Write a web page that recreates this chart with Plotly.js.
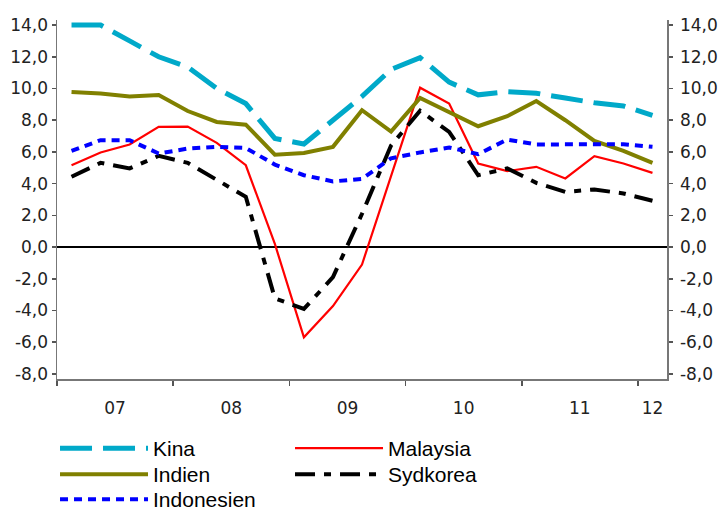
<!DOCTYPE html>
<html>
<head>
<meta charset="utf-8">
<script src="https://cdn.plot.ly/plotly-3.0.1.min.js"></script>
<style>html,body{margin:0;padding:0;background:#fff}#chart{width:721px;height:509px}</style>
</head>
<body>
<div id="chart"></div>
<script>
// Quarters 2007K1 .. 2012K1
const quarters = ["07K1","07K2","07K3","07K4","08K1","08K2","08K3","08K4","09K1","09K2","09K3","09K4","10K1","10K2","10K3","10K4","11K1","11K2","11K3","11K4","12K1"];
const kina      = [14.0,14.0,13.0,12.0,11.35,10.0,9.05,6.85,6.5,8.0,9.5,11.2,11.95,10.4,9.6,9.8,9.7,9.4,9.1,8.9,8.3];
const malaysia  = [5.16,5.96,6.47,7.58,7.6,6.57,5.16,0.2,-5.69,-3.72,-1.1,4.5,10.05,9.05,5.27,4.79,5.06,4.33,5.73,5.27,4.68];
const indien    = [9.78,9.68,9.5,9.59,8.58,7.89,7.72,5.83,5.93,6.32,8.63,7.28,9.4,8.52,7.62,8.25,9.21,8.0,6.69,6.06,5.31];
const sydkorea  = [4.43,5.31,4.96,5.75,5.31,4.22,3.17,-3.23,-3.9,-1.9,2.1,6.4,8.6,7.26,4.53,4.96,4.05,3.48,3.63,3.38,2.92];
const indonesien= [6.06,6.74,6.74,5.9,6.21,6.32,6.25,5.2,4.53,4.14,4.3,5.6,5.97,6.28,5.86,6.78,6.47,6.47,6.47,6.49,6.32];

const yearTicks  = [-0.5,3.5,7.5,11.5,15.5,19.5];
const yearLabelPos = [1.5,5.5,9.5,13.5,17.5,20];
const yearLabels = ["07","08","09","10","11","12"];
const yTickVals = [-8,-6,-4,-2,0,2,4,6,8,10,12,14];
const yTickText = ["-8,0","-6,0","-4,0","-2,0","0,0","2,0","4,0","6,0","8,0","10,0","12,0","14,0"];

const xIdx = quarters.map((q,i)=>i);

const traces = [
  {name:"Kina", legend:"legend", x:xIdx, y:kina, mode:"lines", line:{color:"#00A9C9", width:5, dash:"32px,11px"}},
  {name:"Malaysia", legend:"legend", x:xIdx, y:malaysia, mode:"lines", line:{color:"#FF0000", width:2.2}},
  {name:"Indien", legend:"legend2", x:xIdx, y:indien, mode:"lines", line:{color:"#808000", width:4}},
  {name:"Sydkorea", legend:"legend2", x:xIdx, y:sydkorea, mode:"lines", line:{color:"#000000", width:4, dash:"20px,9px,7px,9px"}},
  {name:"Indonesien", legend:"legend3", x:xIdx, y:indonesien, mode:"lines", line:{color:"#0000FF", width:4, dash:"8px,6px"}},
  {x:[], y:[], xaxis:"x2", yaxis:"y2", showlegend:false, hoverinfo:"skip", mode:"lines"}
];

const tickFont = {family:"DejaVu Sans", size:17, color:"#222"};
const yRange = [-8.32, 14.32];
const xRange = [-0.5, 20.5];

function legendRow(yTop){
  return {orientation:"h", xref:"container", yref:"container", x:0.0763, y:yTop, xanchor:"left", yanchor:"top",
          font:{family:"Liberation Sans", size:21, color:"#000"}, itemwidth:88, entrywidth:132, traceorder:"normal",
          bgcolor:"rgba(0,0,0,0)"};
}

const layout = {
  width:721, height:509,
  margin:{l:57, r:54, t:20, b:130},
  paper_bgcolor:"#fff", plot_bgcolor:"#fff",
  showlegend:true,
  legend:legendRow(1-428/509),
  legend2:legendRow(1-454/509),
  legend3:legendRow(1-479/509),
  xaxis:{range:xRange, tickmode:"array", tickvals:yearTicks, showticklabels:false, ticks:"outside", ticklen:5,
         tickcolor:"#555", tickwidth:1.5, showline:true, linecolor:"#777", linewidth:1.5, showgrid:false, zeroline:false,
         fixedrange:true},
  xaxis2:{range:xRange, overlaying:"x", anchor:"y", side:"bottom", tickmode:"array", tickvals:yearLabelPos, ticktext:yearLabels,
          ticks:"outside", ticklen:14, tickcolor:"rgba(0,0,0,0)", showline:false, showgrid:false, zeroline:false, tickfont:tickFont},
  yaxis:{range:yRange, tickmode:"array", tickvals:yTickVals, ticktext:yTickText, ticks:"outside", ticklen:4, tickcolor:"#555",
         tickwidth:1.5, showline:true, linecolor:"#777", linewidth:1.5, showgrid:false, zeroline:true, zerolinecolor:"#000",
         zerolinewidth:1.5, tickfont:tickFont},
  yaxis2:{range:yRange, overlaying:"y", anchor:"x", side:"right", tickmode:"array", tickvals:yTickVals, ticktext:yTickText,
          ticks:"outside", ticklen:4, tickcolor:"#555", tickwidth:1.5, showline:true, linecolor:"#777", linewidth:1.5,
          showgrid:false, zeroline:false, tickfont:tickFont, ticklabelstandoff:4}
};

Plotly.newPlot("chart", traces, layout, {staticPlot:true, displayModeBar:false});
</script>
</body>
</html>
